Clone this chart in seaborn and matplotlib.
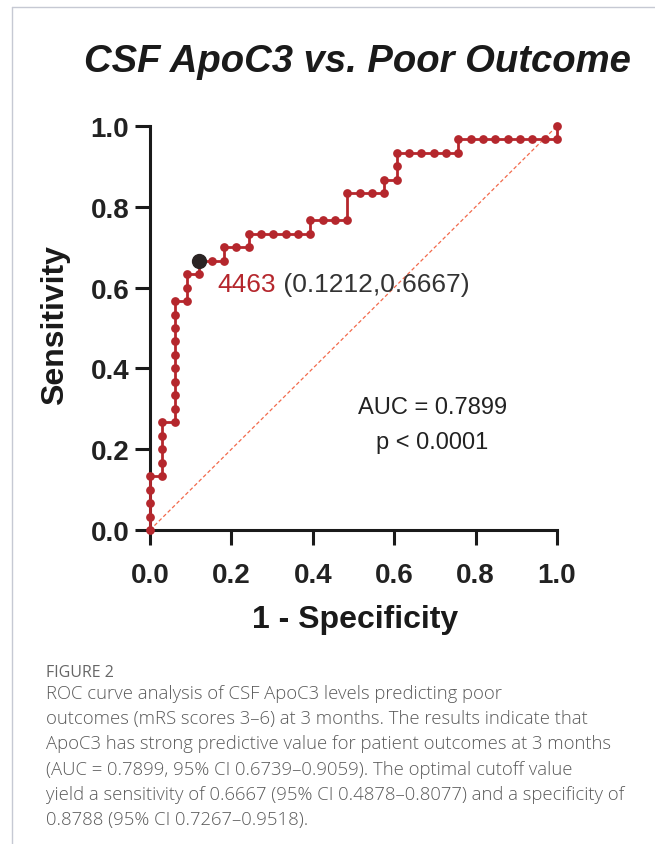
import matplotlib
matplotlib.use("Agg")
import matplotlib.pyplot as plt
from matplotlib.lines import Line2D
import seaborn as sns

# ROC curve, counts of false / true positives (33 negatives, 30 positives)
fp_counts = [0, 0, 0, 0, 0, 1, 1, 1, 1, 1, 2, 2, 2, 2, 2, 2, 2, 2, 2, 2, 3, 3, 3, 4, 4,
             5, 6, 6, 7, 8, 8, 9, 10, 11, 12, 13, 13, 14, 15, 16, 16, 17, 18, 19, 19,
             20, 20, 20, 21, 22, 23, 24, 25, 25, 26, 27, 28, 29, 30, 31, 32, 33, 33]
tp_counts = [0, 1, 2, 3, 4, 4, 5, 6, 7, 8, 8, 9, 10, 11, 12, 13, 14, 15, 16, 17, 17, 18, 19, 19, 20,
             20, 20, 21, 21, 21, 22, 22, 22, 22, 22, 22, 23, 23, 23, 23, 25, 25, 25, 25, 26,
             26, 27, 28, 28, 28, 28, 28, 28, 29, 29, 29, 29, 29, 29, 29, 29, 29, 30]
n_neg = 33
n_pos = 30
fpr = [c / n_neg for c in fp_counts]
tpr = [c / n_pos for c in tp_counts]

cutoff_label = "4463"
cutoff_point = (0.1212, 0.6667)
auc_text = "AUC = 0.7899"
p_text = "p < 0.0001"
ticks = [0.0, 0.2, 0.4, 0.6, 0.8, 1.0]

caption_lines = [
    "ROC curve analysis of CSF ApoC3 levels predicting poor",
    "outcomes (mRS scores 3\u20136) at 3 months. The results indicate that",
    "ApoC3 has strong predictive value for patient outcomes at 3 months",
    "(AUC = 0.7899, 95% CI 0.6739\u20130.9059). The optimal cutoff value",
    "yield a sensitivity of 0.6667 (95% CI 0.4878\u20130.8077) and a specificity of",
    "0.8788 (95% CI 0.7267\u20130.9518).",
]

sns.set_style("white")
plt.rcParams["font.family"] = ["Liberation Sans", "DejaVu Sans"]

red = "#B5272D"
W, H = 655, 845
fig = plt.figure(figsize=(W / 100, H / 100), dpi=100)
ax = fig.add_axes([150 / W, 1 - 531 / H, 407 / W, 404 / H])

# chance line
ax.plot([0, 1], [0, 1], color="#F26A4C", lw=0.9, ls=(0, (3, 2)), zorder=1)

sns.lineplot(x=fpr, y=tpr, sort=False, estimator=None, ax=ax, color=red,
             lw=2.0, marker="o", markersize=6.3, markeredgewidth=0, clip_on=False, zorder=3)
ax.plot([cutoff_point[0]], [cutoff_point[1]], "o", color="#2B2424", markersize=10,
        clip_on=False, zorder=4)

ax.set_xlim(0, 1)
ax.set_ylim(0, 1)
ax.set_xticks(ticks)
ax.set_yticks(ticks)
ax.set_xticklabels([f"{t:.1f}" for t in ticks], fontsize=20, fontweight="bold", color="#222222")
ax.set_yticklabels([f"{t:.1f}" for t in ticks], fontsize=20, fontweight="bold", color="#222222")
ax.tick_params(axis="both", direction="out", length=11, width=2.2, color="#1a1a1a",
               bottom=True, left=True)
ax.tick_params(axis="x", pad=12)
ax.tick_params(axis="y", pad=4)
for side in ["top", "right"]:
    ax.spines[side].set_visible(False)
for side in ["left", "bottom"]:
    ax.spines[side].set_linewidth(2.2)
    ax.spines[side].set_color("#1a1a1a")

t1 = ax.text(0.165, 0.608, cutoff_label, color=red, fontsize=19, ha="left", va="center")
ax.annotate(f" ({cutoff_point[0]:.4f},{cutoff_point[1]:.4f})",
            xy=(1, 0.5), xycoords=t1, color="#333333", fontsize=19, ha="left", va="center")
ax.text(0.694, 0.305, auc_text, fontsize=17, ha="center", va="center", color="#222222")
ax.text(0.694, 0.218, p_text, fontsize=17, ha="center", va="center", color="#222222")

fig.text(357 / W, 1 - 62 / H, "CSF ApoC3 vs. Poor Outcome", fontsize=27.5, fontweight="bold",
         fontstyle="italic", ha="center", va="center", color="#1a1a1a")
fig.text(55 / W, 1 - 325 / H, "Sensitivity", fontsize=23, fontweight="bold", rotation=90,
         ha="center", va="center", color="#1a1a1a")
fig.text(355 / W, 1 - 620 / H, "1 - Specificity", fontsize=23, fontweight="bold",
         ha="center", va="center", color="#1a1a1a")

# caption
fig.text(46 / W, 1 - 673 / H, "FIGURE 2", fontsize=11.5, color="#666666", ha="left", va="center",
         family=["Open Sans", "DejaVu Sans"])
for i, line in enumerate(caption_lines):
    fig.text(46 / W, 1 - (694 + 25.2 * i) / H, line, fontsize=13.3, color="#5a5a5a", ha="left",
             va="center", family=["Open Sans", "DejaVu Sans"], fontweight="light")

# page border
fig.add_artist(Line2D([12 / W, 1], [1 - 8 / H, 1 - 8 / H], transform=fig.transFigure,
                      color="#C6C9D3", lw=1))
fig.add_artist(Line2D([12 / W, 12 / W], [0, 1 - 8 / H], transform=fig.transFigure,
                      color="#C6C9D3", lw=1))

fig.savefig("out.png", dpi=100)
